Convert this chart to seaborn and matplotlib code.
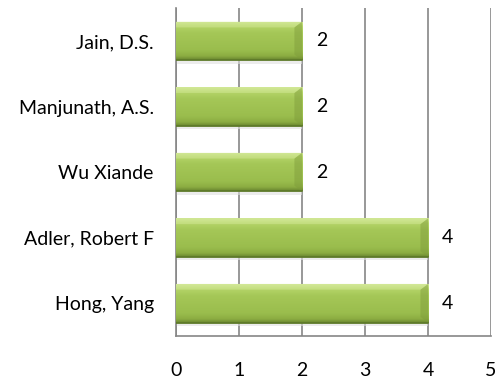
import numpy as np
import pandas as pd
import matplotlib
matplotlib.use("Agg")
import matplotlib.pyplot as plt
import seaborn as sns
from matplotlib.colors import LinearSegmentedColormap
from matplotlib.patches import Polygon

# данные с картинки (сверху вниз)
authors = ["Jain, D.S.", "Manjunath, A.S.", "Wu Xiande", "Adler, Robert F", "Hong, Yang"]
counts = [2, 2, 2, 4, 4]
x_ticks = [0, 1, 2, 3, 4, 5]

sns.set_theme(style="white")
plt.rcParams["font.family"] = ["Lato", "DejaVu Sans"]

df = pd.DataFrame({"author": authors, "count": counts})

fig = plt.figure(figsize=(4.97, 3.83), dpi=100)
ax = fig.add_axes([0.354, 0.1227, 0.634, 0.856])

sns.barplot(data=df, y="author", x="count", orient="h", color="#9BBB59",
            width=0.59, saturation=1, ax=ax, zorder=3)

grid_col = "#868686"
fs = 14
ax.set_xlim(0, 5)
ax.set_ylim(4.5, -0.5)
ax.set_xticks(x_ticks)
ax.xaxis.grid(True, color=grid_col, linewidth=1.2, zorder=0)
ax.set_axisbelow(True)
for s in ["top", "right"]:
    ax.spines[s].set_visible(False)
for s in ["left", "bottom"]:
    ax.spines[s].set_color(grid_col)
    ax.spines[s].set_linewidth(1.2)
ax.tick_params(axis="x", length=0, pad=19, labelsize=fs, colors="black")
ax.tick_params(axis="y", length=0, pad=16, labelsize=fs, colors="black")
ax.set_xlabel("")
ax.set_ylabel("")

# глянцевая заливка баров
grad = LinearSegmentedColormap.from_list(
    "g", [(0.0, "#cfe692"), (0.12, "#b4d468"), (0.3, "#a5c757"),
          (0.75, "#9abd4d"), (0.9, "#8cad42"), (1.0, "#6a8630")])
img = np.linspace(0, 1, 100).reshape(-1, 1)
for p in list(ax.patches):
    x0, y0 = p.get_x(), p.get_y()
    w, h = p.get_width(), p.get_height()
    p.set_edgecolor("none")
    # лёгкая тень снизу
    ax.add_patch(plt.Rectangle((x0, y0 + h), w, 0.05, color="#e0e0e0",
                               alpha=0.6, zorder=2, linewidth=0))
    im = ax.imshow(img, cmap=grad, aspect="auto", extent=(x0, x0 + w, y0 + h, y0),
                   zorder=3, interpolation="bicubic")
    im.set_clip_path(p)
    # скос справа
    d = 0.12
    ax.add_patch(Polygon([(x0 + w - d, y0 + 0.15 * h), (x0 + w, y0),
                          (x0 + w, y0 + h), (x0 + w - d, y0 + 0.85 * h)],
                         closed=True, color="#7d9a3a", alpha=0.45, zorder=4, linewidth=0))
    ax.add_patch(Polygon([(x0, y0), (x0 + w, y0), (x0 + w - d, y0 + 0.15 * h),
                          (x0, y0 + 0.15 * h)],
                         closed=True, color="#d8ec9f", alpha=0.45, zorder=4, linewidth=0))
    ax.plot([x0, x0 + w], [y0 + h, y0 + h], color="#5e7a2a", lw=1.3, zorder=5)
    ax.text(x0 + w + 0.22, y0 + h / 2, f"{int(w)}", va="center", ha="left",
            fontsize=fs, color="black", zorder=6)

ax.set_ylim(4.5, -0.5)
ax.set_xlim(0, 5)

fig.savefig("out.png", dpi=100)
